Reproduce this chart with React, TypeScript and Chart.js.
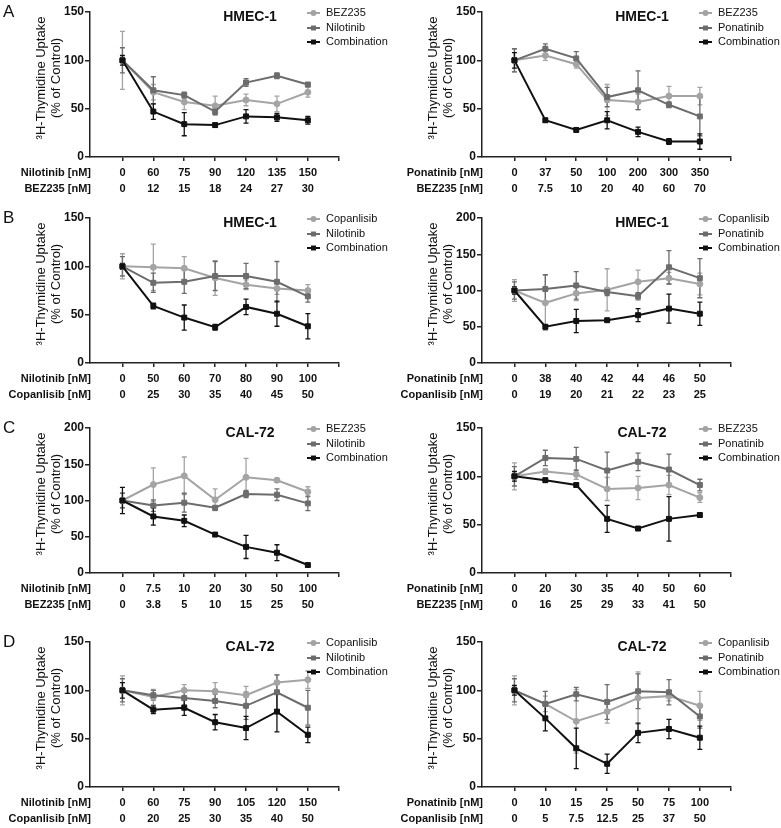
import React, { useEffect, useRef } from 'react';
import { Chart, registerables } from 'chart.js';

Chart.register(...registerables);

const FONT = "'Liberation Sans', Arial, Helvetica, sans-serif";
const LIGHT = '#a4a4a4';
const MID = '#6c6c6c';
const DARK = '#111111';
const Y_TITLE_1 = '³H-Thymidine Uptake';
const Y_TITLE_2 = '(% of Control)';

// ---------- Panel A (left) ----------
const aLeftNames = ['BEZ235', 'Nilotinib', 'Combination'];
const aLeftRowLabels = ['Nilotinib [nM]', 'BEZ235 [nM]'];
const aLeftDoseA = ['0', '60', '75', '90', '120', '135', '150'];
const aLeftDoseB = ['0', '12', '15', '18', '24', '27', '30'];
const aLeftS1 = [100, 67, 57, 53, 59, 55, 67];
const aLeftS1Err = [30, 8, 8, 10, 6, 8, 5];
const aLeftS2 = [100, 69, 64, 47, 77, 84, 75];
const aLeftS2Err = [13, 14, 3, 3, 4, 3, 2];
const aLeftS3 = [100, 47, 34, 33, 42, 41, 38];
const aLeftS3Err = [5, 8, 12, 2, 7, 4, 4];

// ---------- Panel A (right) ----------
const aRightNames = ['BEZ235', 'Ponatinib', 'Combination'];
const aRightRowLabels = ['Ponatinib [nM]', 'BEZ235 [nM]'];
const aRightDoseA = ['0', '37', '50', '100', '200', '300', '350'];
const aRightDoseB = ['0', '7.5', '10', '20', '40', '60', '70'];
const aRightS1 = [100, 105, 96, 59, 57, 63, 63];
const aRightS1Err = [12, 5, 4, 16, 8, 10, 9];
const aRightS2 = [100, 112, 102, 62, 69, 54, 42];
const aRightS2Err = [12, 5, 7, 10, 20, 3, 20];
const aRightS3 = [100, 38, 28, 38, 26, 16, 16];
const aRightS3Err = [8, 2, 2, 9, 5, 3, 8];

// ---------- Panel B (left) ----------
const bLeftNames = ['Copanlisib', 'Nilotinib', 'Combination'];
const bLeftRowLabels = ['Nilotinib [nM]', 'Copanlisib [nM]'];
const bLeftDoseA = ['0', '50', '60', '70', '80', '90', '100'];
const bLeftDoseB = ['0', '25', '30', '35', '40', '45', '50'];
const bLeftS1 = [100, 99, 98, 88, 81, 77, 75];
const bLeftS1Err = [13, 24, 12, 18, 5, 6, 6];
const bLeftS2 = [100, 83, 84, 90, 90, 84, 69];
const bLeftS2Err = [10, 10, 12, 15, 13, 21, 6];
const bLeftS3 = [100, 59, 47, 37, 58, 51, 38];
const bLeftS3Err = [3, 3, 13, 3, 8, 13, 13];

// ---------- Panel B (right) ----------
const bRightNames = ['Copanlisib', 'Ponatinib', 'Combination'];
const bRightRowLabels = ['Ponatinib [nM]', 'Copanlisib [nM]'];
const bRightDoseA = ['0', '38', '40', '42', '44', '46', '50'];
const bRightDoseB = ['0', '19', '20', '21', '22', '23', '25'];
const bRightS1 = [100, 83, 96, 101, 112, 117, 109];
const bRightS1Err = [15, 38, 10, 29, 16, 8, 15];
const bRightS2 = [100, 102, 107, 98, 92, 132, 117];
const bRightS2Err = [12, 20, 19, 5, 5, 23, 27];
const bRightS3 = [100, 50, 58, 59, 66, 75, 68];
const bRightS3Err = [5, 3, 16, 2, 9, 20, 16];

// ---------- Panel C (left) ----------
const cLeftNames = ['BEZ235', 'Nilotinib', 'Combination'];
const cLeftRowLabels = ['Nilotinib [nM]', 'BEZ235 [nM]'];
const cLeftDoseA = ['0', '7.5', '10', '20', '30', '50', '100'];
const cLeftDoseB = ['0', '3.8', '5', '10', '15', '25', '50'];
const cLeftS1 = [100, 122, 134, 101, 132, 128, 112];
const cLeftS1Err = [10, 23, 26, 15, 26, 3, 7];
const cLeftS2 = [100, 93, 97, 90, 109, 108, 96];
const cLeftS2Err = [10, 8, 13, 3, 5, 8, 10];
const cLeftS3 = [100, 78, 72, 53, 36, 28, 11];
const cLeftS3Err = [18, 12, 8, 2, 16, 11, 2];

// ---------- Panel C (right) ----------
const cRightNames = ['BEZ235', 'Ponatinib', 'Combination'];
const cRightRowLabels = ['Ponatinib [nM]', 'BEZ235 [nM]'];
const cRightDoseA = ['0', '20', '30', '35', '40', '50', '60'];
const cRightDoseB = ['0', '16', '25', '29', '33', '41', '50'];
const cRightS1 = [100, 105, 102, 87, 88, 91, 78];
const cRightS1Err = [14, 3, 5, 12, 12, 10, 5];
const cRightS2 = [100, 119, 118, 106, 115, 107, 91];
const cRightS2Err = [10, 8, 12, 19, 9, 16, 6];
const cRightS3 = [100, 96, 91, 56, 46, 56, 60];
const cRightS3Err = [5, 2, 2, 14, 2, 23, 2];

// ---------- Panel D (left) ----------
const dLeftNames = ['Copanlisib', 'Nilotinib', 'Combination'];
const dLeftRowLabels = ['Nilotinib [nM]', 'Copanlisib [nM]'];
const dLeftDoseA = ['0', '60', '75', '90', '105', '120', '150'];
const dLeftDoseB = ['0', '20', '25', '30', '35', '40', '50'];
const dLeftS1 = [100, 93, 100, 99, 95, 108, 111];
const dLeftS1Err = [15, 8, 6, 9, 9, 8, 9];
const dLeftS2 = [100, 95, 92, 89, 84, 98, 82];
const dLeftS2Err = [12, 5, 7, 7, 14, 18, 18];
const dLeftS3 = [100, 80, 82, 67, 61, 78, 54];
const dLeftS3Err = [8, 4, 8, 8, 12, 21, 8];

// ---------- Panel D (right) ----------
const dRightNames = ['Copanlisib', 'Ponatinib', 'Combination'];
const dRightRowLabels = ['Ponatinib [nM]', 'Copanlisib [nM]'];
const dRightDoseA = ['0', '10', '15', '25', '50', '75', '100'];
const dRightDoseB = ['0', '5', '7.5', '12.5', '25', '37', '50'];
const dRightS1 = [100, 86, 68, 78, 92, 94, 84];
const dRightS1Err = [15, 8, 33, 12, 27, 5, 15];
const dRightS2 = [100, 86, 96, 88, 99, 98, 73];
const dRightS2Err = [12, 13, 7, 18, 18, 13, 12];
const dRightS3 = [100, 71, 40, 24, 56, 60, 51];
const dRightS3Err = [5, 13, 21, 10, 10, 10, 12];

type PanelDef = {
  letter: string;
  title: string;
  names: string[];
  rowLabels: string[];
  doseA: string[];
  doseB: string[];
  values: number[][];
  errors: number[][];
  yMax: number;
  col: number;
  top: number;
};

const PANELS: PanelDef[] = [
  { letter: 'A', title: 'HMEC-1', names: aLeftNames, rowLabels: aLeftRowLabels, doseA: aLeftDoseA, doseB: aLeftDoseB,
    values: [aLeftS1, aLeftS2, aLeftS3], errors: [aLeftS1Err, aLeftS2Err, aLeftS3Err], yMax: 150, col: 0, top: 0 },
  { letter: '', title: 'HMEC-1', names: aRightNames, rowLabels: aRightRowLabels, doseA: aRightDoseA, doseB: aRightDoseB,
    values: [aRightS1, aRightS2, aRightS3], errors: [aRightS1Err, aRightS2Err, aRightS3Err], yMax: 150, col: 1, top: 0 },
  { letter: 'B', title: 'HMEC-1', names: bLeftNames, rowLabels: bLeftRowLabels, doseA: bLeftDoseA, doseB: bLeftDoseB,
    values: [bLeftS1, bLeftS2, bLeftS3], errors: [bLeftS1Err, bLeftS2Err, bLeftS3Err], yMax: 150, col: 0, top: 206 },
  { letter: '', title: 'HMEC-1', names: bRightNames, rowLabels: bRightRowLabels, doseA: bRightDoseA, doseB: bRightDoseB,
    values: [bRightS1, bRightS2, bRightS3], errors: [bRightS1Err, bRightS2Err, bRightS3Err], yMax: 200, col: 1, top: 206 },
  { letter: 'C', title: 'CAL-72', names: cLeftNames, rowLabels: cLeftRowLabels, doseA: cLeftDoseA, doseB: cLeftDoseB,
    values: [cLeftS1, cLeftS2, cLeftS3], errors: [cLeftS1Err, cLeftS2Err, cLeftS3Err], yMax: 200, col: 0, top: 416 },
  { letter: '', title: 'CAL-72', names: cRightNames, rowLabels: cRightRowLabels, doseA: cRightDoseA, doseB: cRightDoseB,
    values: [cRightS1, cRightS2, cRightS3], errors: [cRightS1Err, cRightS2Err, cRightS3Err], yMax: 150, col: 1, top: 416 },
  { letter: 'D', title: 'CAL-72', names: dLeftNames, rowLabels: dLeftRowLabels, doseA: dLeftDoseA, doseB: dLeftDoseB,
    values: [dLeftS1, dLeftS2, dLeftS3], errors: [dLeftS1Err, dLeftS2Err, dLeftS3Err], yMax: 150, col: 0, top: 630 },
  { letter: '', title: 'CAL-72', names: dRightNames, rowLabels: dRightRowLabels, doseA: dRightDoseA, doseB: dRightDoseB,
    values: [dRightS1, dRightS2, dRightS3], errors: [dRightS1Err, dRightS2Err, dRightS3Err], yMax: 150, col: 1, top: 630 },
];

const COLORS = [LIGHT, MID, DARK];
const SHAPES = ['circle', 'rect', 'rect'];
const RADII = [3, 3.5, 3.5];

const PW = 390;
const PH = 198;

function drawMarker(ctx: CanvasRenderingContext2D, shape: string, x: number, y: number, r: number) {
  ctx.beginPath();
  if (shape === 'circle') {
    ctx.arc(x, y, r, 0, Math.PI * 2);
  } else {
    const s = r * Math.SQRT1_2;
    ctx.rect(x - s, y - s, 2 * s, 2 * s);
  }
  ctx.fill();
}

function Panel({ def }: { def: PanelDef }) {
  const ref = useRef<HTMLCanvasElement>(null);
  useEffect(() => {
    if (!ref.current) return;
    const axisX = def.col === 0 ? 90 : 92;
    const xMin = -1.05;
    const xMax = 7;
    const spacing = 30.9;
    const L = (xMax - xMin) * spacing;
    const padRight = PW - axisX - L;

    const datasets = def.values.map((vals, s) => ({
      label: def.names[s],
      data: vals.map((v, i) => ({ x: i, y: v })),
      errors: def.errors[s],
      borderColor: COLORS[s],
      backgroundColor: COLORS[s],
      pointBackgroundColor: COLORS[s],
      pointBorderColor: COLORS[s],
      borderWidth: 2,
      pointStyle: SHAPES[s],
      pointRadius: RADII[s],
      pointBorderWidth: 1,
      tension: 0,
      order: 2 - s,
    }));

    const errorBars = {
      id: 'errorBars',
      beforeDatasetsDraw(chart: any) {
        const ctx = chart.ctx;
        const xs = chart.scales.x;
        const ys = chart.scales.y;
        chart.data.datasets.forEach((ds: any) => {
          const errs: number[] = ds.errors;
          if (!errs) return;
          ctx.save();
          ctx.strokeStyle = ds.borderColor;
          ctx.lineWidth = 1.3;
          ds.data.forEach((p: any, i: number) => {
            const e = errs[i];
            if (!e) return;
            const x = xs.getPixelForValue(p.x);
            const y1 = ys.getPixelForValue(p.y + e);
            const y2 = ys.getPixelForValue(Math.max(0, p.y - e));
            ctx.beginPath();
            ctx.moveTo(x, y1);
            ctx.lineTo(x, y2);
            ctx.moveTo(x - 2.5, y1);
            ctx.lineTo(x + 2.5, y1);
            ctx.moveTo(x - 2.5, y2);
            ctx.lineTo(x + 2.5, y2);
            ctx.stroke();
          });
          ctx.restore();
        });
      },
    };

    const decor = {
      id: 'decor',
      afterDraw(chart: any) {
        const ctx: CanvasRenderingContext2D = chart.ctx;
        const ca = chart.chartArea;
        ctx.save();
        ctx.fillStyle = '#111';
        // panel letter
        if (def.letter) {
          ctx.font = `17px ${FONT}`;
          ctx.textAlign = 'left';
          ctx.textBaseline = 'top';
          ctx.fillText(def.letter, 3, ca.top - 8);
        }
        // title
        ctx.font = `bold 14px ${FONT}`;
        ctx.textAlign = 'center';
        ctx.textBaseline = 'middle';
        ctx.fillText(def.title, ca.left + 160, ca.top + 5);
        // legend
        const rowsY = [ca.top + 1, ca.top + 16, ca.top + 30];
        def.names.forEach((name, s) => {
          const y = rowsY[s];
          ctx.strokeStyle = COLORS[s];
          ctx.fillStyle = COLORS[s];
          ctx.lineWidth = 2;
          ctx.beginPath();
          ctx.moveTo(ca.left + 217, y);
          ctx.lineTo(ca.left + 230, y);
          ctx.stroke();
          drawMarker(ctx, SHAPES[s], ca.left + 223.5, y, RADII[s]);
          ctx.fillStyle = '#111';
          ctx.font = `11px ${FONT}`;
          ctx.textAlign = 'left';
          ctx.textBaseline = 'middle';
          ctx.fillText(name, ca.left + 236, y);
        });
        // y title
        ctx.fillStyle = '#111';
        ctx.font = `13px ${FONT}`;
        ctx.textAlign = 'center';
        ctx.textBaseline = 'middle';
        const cy = ca.top + 66;
        ctx.save();
        ctx.translate(ca.left - 49, cy);
        ctx.rotate(-Math.PI / 2);
        ctx.fillText(Y_TITLE_1, 0, 0);
        ctx.restore();
        ctx.save();
        ctx.translate(ca.left - 34, cy);
        ctx.rotate(-Math.PI / 2);
        ctx.fillText(Y_TITLE_2, 0, 0);
        ctx.restore();
        // row labels
        ctx.font = `bold 11px ${FONT}`;
        ctx.textAlign = 'right';
        ctx.textBaseline = 'middle';
        ctx.fillText(def.rowLabels[0], ca.left + 1, ca.bottom + 16);
        ctx.fillText(def.rowLabels[1], ca.left + 1, ca.bottom + 32);
        ctx.restore();
      },
    };

    const chart = new Chart(ref.current, {
      type: 'line',
      data: { datasets: datasets as any },
      plugins: [errorBars, decor],
      options: {
        responsive: false,
        animation: false,
        devicePixelRatio: 1,
        layout: { padding: { top: 12, left: 0, right: padRight, bottom: 0 } },
        plugins: { legend: { display: false }, tooltip: { enabled: false } },
        scales: {
          x: {
            type: 'linear',
            min: xMin,
            max: xMax,
            afterBuildTicks: (s: any) => {
              const t = [];
              for (let i = 0; i <= 7; i++) t.push({ value: i });
              s.ticks = t;
            },
            afterFit: (s: any) => {
              s.height = 41;
            },
            grid: { display: true, drawOnChartArea: false, drawTicks: true, tickLength: 4, color: '#222', lineWidth: 1.5 },
            border: { display: true, color: '#222', width: 1.5 },
            ticks: {
              autoSkip: false,
              maxRotation: 0,
              padding: 4,
              color: '#111',
              font: { family: FONT, size: 11, weight: 'bold', lineHeight: 16 / 11 },
              callback: (v: any) => {
                const i = Number(v);
                if (i >= 0 && i < def.doseA.length) return [def.doseA[i], def.doseB[i]];
                return '';
              },
            },
          },
          y: {
            type: 'linear',
            min: 0,
            max: def.yMax,
            afterFit: (s: any) => {
              s.width = axisX;
            },
            grid: { display: true, drawOnChartArea: false, drawTicks: true, tickLength: 5, color: '#222', lineWidth: 1.5 },
            border: { display: true, color: '#222', width: 1.5 },
            ticks: {
              stepSize: 50,
              padding: 1,
              color: '#111',
              font: { family: FONT, size: 12, weight: 'bold' },
            },
          },
        },
      } as any,
    });
    return () => chart.destroy();
  }, [def]);

  return (
    <canvas
      ref={ref}
      width={PW}
      height={PH}
      style={{ position: 'absolute', left: def.col * 390, top: def.top, width: PW, height: PH }}
    />
  );
}

export default function App() {
  return (
    <div style={{ position: 'absolute', left: 0, top: 0, width: 781, height: 828, background: '#fff', overflow: 'hidden' }}>
      {PANELS.map((p, i) => (
        <Panel key={i} def={p} />
      ))}
    </div>
  );
}
